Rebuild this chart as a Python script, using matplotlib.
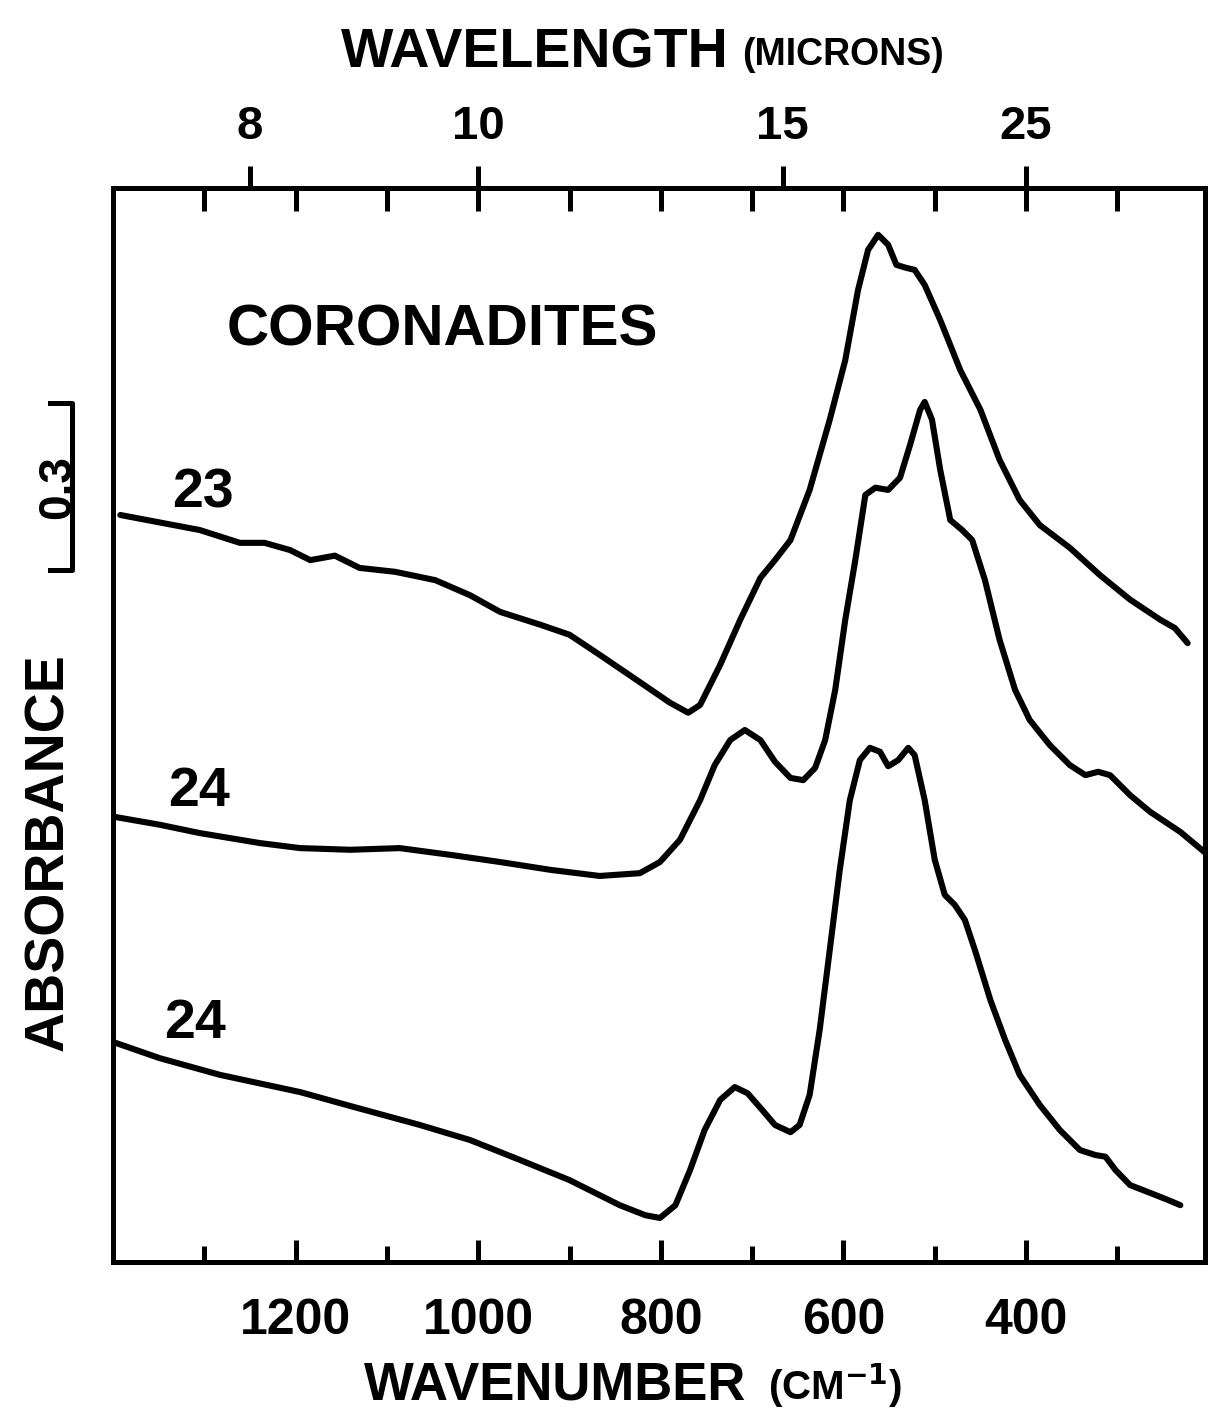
import numpy as np
import matplotlib
matplotlib.use("Agg")
import matplotlib.pyplot as plt
import matplotlib.transforms as mtransforms

plt.rcParams['font.family'] = ['Liberation Sans', 'DejaVu Sans']
plt.rcParams['font.weight'] = 'bold'

# wavenumber (cm-1) and absorbance (offset)
nu_23 = [1392, 1305, 1261, 1234, 1206, 1184, 1157, 1130, 1091, 1047, 1009, 976,
         932, 900, 867, 823, 790, 770, 757, 735, 713, 691, 675, 658, 637, 615,
         598, 584, 573, 562, 551, 542, 532, 522, 511, 494, 472, 450, 429, 407,
         385, 352, 319, 286, 253, 237, 223]
abs_23 = [1.341, 1.314, 1.291, 1.291, 1.278, 1.260, 1.268, 1.246, 1.239, 1.224,
          1.197, 1.167, 1.144, 1.126, 1.090, 1.041, 1.004, 0.986, 1.000, 1.072,
          1.153, 1.228, 1.260, 1.296, 1.386, 1.512, 1.619, 1.745, 1.817, 1.844,
          1.826, 1.790, 1.785, 1.781, 1.754, 1.691, 1.601, 1.530, 1.440, 1.368,
          1.323, 1.282, 1.233, 1.189, 1.153, 1.138, 1.111]

nu_24a = [1398, 1349, 1305, 1239, 1195, 1140, 1086, 1031, 976, 921, 867, 823,
          801, 779, 757, 741, 724, 708, 691, 675, 658, 644, 631, 620, 609, 598,
          587, 576, 565, 551, 538, 527, 516, 511, 503, 494, 483, 470, 459, 445,
          429, 412, 396, 374, 352, 335, 321, 308, 286, 264, 231, 201]
abs_24a = [0.799, 0.785, 0.770, 0.752, 0.743, 0.740, 0.743, 0.731, 0.718, 0.704,
           0.693, 0.698, 0.718, 0.758, 0.829, 0.892, 0.937, 0.955, 0.937, 0.898,
           0.869, 0.865, 0.887, 0.937, 1.027, 1.153, 1.260, 1.377, 1.390, 1.386,
           1.408, 1.467, 1.530, 1.544, 1.512, 1.422, 1.332, 1.314, 1.296, 1.224,
           1.117, 1.027, 0.973, 0.928, 0.892, 0.874, 0.880, 0.874, 0.838, 0.808,
           0.772, 0.731]

nu_24b = [1400, 1349, 1283, 1195, 1140, 1064, 1009, 954, 900, 845, 817, 801,
          784, 768, 752, 735, 719, 705, 689, 675, 658, 648, 637, 626, 615, 604,
          593, 582, 571, 560, 551, 540, 529, 522, 511, 500, 489, 478, 467, 456,
          439, 423, 407, 385, 363, 341, 324, 313, 302, 286, 264, 244, 231]
abs_24b = [0.395, 0.366, 0.336, 0.305, 0.280, 0.246, 0.219, 0.183, 0.147, 0.102,
           0.084, 0.079, 0.102, 0.165, 0.237, 0.291, 0.314, 0.303, 0.273, 0.246,
           0.233, 0.246, 0.300, 0.417, 0.560, 0.704, 0.829, 0.901, 0.923, 0.916,
           0.890, 0.901, 0.923, 0.910, 0.829, 0.722, 0.659, 0.641, 0.614, 0.560,
           0.470, 0.399, 0.336, 0.282, 0.237, 0.201, 0.192, 0.189, 0.165, 0.138,
           0.124, 0.111, 0.102]

curve_labels = ['23', '24', '24']
label_pos = [(1301, 1.355), (1306, 0.819), (1310, 0.402)]

major_nu = [1200, 1000, 800, 600, 400]
minor_nu = [1300, 1100, 900, 700, 500, 300]
top_nu = list(range(1300, 200, -100))
wl_ticks = [8, 10, 15, 25]

W, H = 1208, 1414
fig = plt.figure(figsize=(W / 100, H / 100), dpi=100)
ax = fig.add_axes([113 / W, 1 - 1262 / H, 1092 / W, 1074 / H])

for nu, a in [(nu_23, abs_23), (nu_24a, abs_24a), (nu_24b, abs_24b)]:
    ax.plot(nu, a, color='black', lw=4.4, solid_joinstyle='round',
            solid_capstyle='round')

ax.set_xlim(1400, 204)
ax.set_ylim(0, 1.928)
ax.set_yticks([])
for s in ax.spines.values():
    s.set_linewidth(3.6)

ax.set_xticks(major_nu)
ax.set_xticks(minor_nu, minor=True)
ax.tick_params(axis='x', which='major', direction='in', length=16, width=3.6,
               pad=26, labelsize=36, top=False)
ax.tick_params(axis='x', which='minor', direction='in', length=11.5, width=3.6,
               top=False)


def to_wl(x):
    x = np.array(x, dtype=float)
    x[np.isclose(x, 0)] = np.inf
    return 1e4 / x


# inward wavenumber ticks on top
sec_in = ax.secondary_xaxis('top')
sec_in.set_xticks(top_nu)
sec_in.set_xticklabels([])
sec_in.tick_params(direction='in', length=16.5, width=3.6)
for s in sec_in.spines.values():
    s.set_visible(False)

# wavelength scale on top
sec_wl = ax.secondary_xaxis('top', functions=(to_wl, to_wl))
sec_wl.set_xticks(wl_ticks)
sec_wl.set_xticklabels([str(w) for w in wl_ticks])
sec_wl.tick_params(direction='out', length=16, width=3.6, pad=12, labelsize=34)
for s in sec_wl.spines.values():
    s.set_visible(False)

for txt, (x, y) in zip(curve_labels, label_pos):
    ax.text(x, y, txt, ha='center', va='baseline', fontsize=40)

ax.text(1039, 1.646, 'CORONADITES', ha='center', va='baseline', fontsize=42)

# 0.3 absorbance scale bar
trans = mtransforms.blended_transform_factory(ax.transAxes, ax.transData)
ax.plot([-0.0577, -0.0375, -0.0375, -0.0577], [1.542, 1.542, 1.242, 1.242],
        color='black', lw=3.6, transform=trans, clip_on=False)
ax.text(-0.0504, 1.392, '0.3', rotation=90, ha='center', va='center',
        fontsize=33, transform=trans)
ax.text(-0.0586, 0.736, 'ABSORBANCE', rotation=90, ha='center', va='center',
        fontsize=40, transform=trans)

fig.text(535 / W, 1 - 68 / H, 'WAVELENGTH', ha='center', va='baseline', fontsize=40)
fig.text(742 / W, 1 - 65 / H, '(MICRONS)', ha='left', va='baseline', fontsize=27)
fig.text(555 / W, 1 - 1400 / H, 'WAVENUMBER', ha='center', va='baseline', fontsize=38)
fig.text(768 / W, 1 - 1400 / H, r'(CM$^{\mathbf{-1}}$)', ha='left', va='baseline',
         fontsize=29)

fig.savefig('out.png', dpi=100)
